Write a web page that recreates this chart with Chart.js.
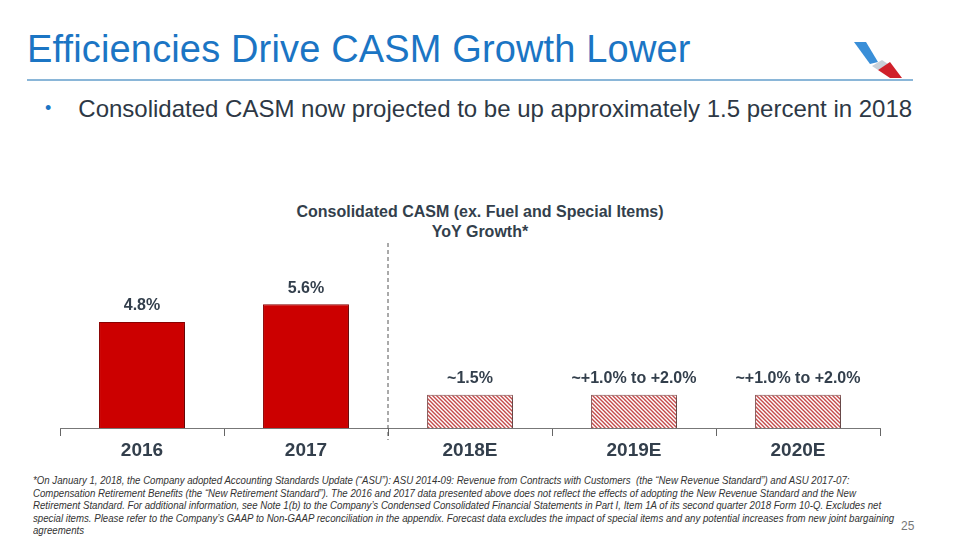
<!DOCTYPE html>
<html lang="en">
<head>
    <meta charset="UTF-8">
    <title>Efficiencies Drive CASM Growth Lower</title>
    <style>
        body {
            margin: 0;
            width: 960px;
            height: 540px;
            position: relative;
            overflow: hidden;
            background: #fff;
            font-family: "Liberation Sans", Arial, sans-serif;
        }
        #title {
            position: absolute;
            left: 27px;
            top: 28px;
            font-size: 38px;
            color: #1b75c4;
            letter-spacing: 0.15px;
        }
        #rule {
            position: absolute;
            left: 27px;
            top: 79px;
            width: 886px;
            height: 2px;
            background: #8ab6d8;
        }
        #bullet {
            position: absolute;
            left: 45px;
            top: 95px;
            font-size: 24px;
            color: #2d3845;
        }
        #bullet span { color: #1b75c4; margin-right: 27px; font-size: 18px; vertical-align: 3px; }
        #chart-title {
            position: absolute;
            left: 240px;
            width: 480px;
            top: 202px;
            text-align: center;
            font-size: 16px;
            font-weight: bold;
            color: #333f4c;
            line-height: 20px;
        }
        #chart-box {
            position: absolute;
            left: 55px;
            top: 230px;
            width: 830px;
            height: 234px;
        }
        #note {
            position: absolute;
            left: 33px;
            top: 475px;
            font-size: 10.4px;
            font-style: italic;
            color: #333;
            line-height: 12.6px;
            transform: scaleX(0.93);
            transform-origin: left top;
            white-space: nowrap;
        }
        #page {
            position: absolute;
            left: 901px;
            top: 519px;
            font-size: 12px;
            color: #777;
        }
        #logo { position: absolute; left: 852px; top: 40px; }
    </style>
</head>
<body>
    <div id="title">Efficiencies Drive CASM Growth Lower</div>
    <div id="rule"></div>
    <svg id="logo" width="62" height="40" viewBox="0 0 62 40">
        <polygon points="2,2 14,2 26,22 18,24" fill="#3a8fd8"/>
        <polygon points="20,26 30,20 36,24 26,30" fill="#c8d0d8"/>
        <polygon points="26,30 38,22 50,38 38,38" fill="#d0202a"/>
    </svg>
    <div id="bullet"><span>•</span>Consolidated CASM now projected to be up approximately 1.5 percent in 2018</div>
    <div id="chart-title">Consolidated CASM (ex. Fuel and Special Items)<br>YoY Growth*</div>
    <div id="chart-box"><canvas id="chart"></canvas></div>
    <div id="note">
        *On January 1, 2018, the Company adopted Accounting Standards Update (“ASU”): ASU 2014-09: Revenue from Contracts with Customers &nbsp;(the “New Revenue Standard”) and ASU 2017-07:<br>
        Compensation Retirement Benefits (the “New Retirement Standard”). The 2016 and 2017 data presented above does not reflect the effects of adopting the New Revenue Standard and the New<br>
        Retirement Standard. For additional information, see Note 1(b) to the Company’s Condensed Consolidated Financial Statements in Part I, Item 1A of its second quarter 2018 Form 10-Q. Excludes net<br>
        special items. Please refer to the Company’s GAAP to Non-GAAP reconciliation in the appendix. Forecast data excludes the impact of special items and any potential increases from new joint bargaining<br>
        agreements
    </div>
    <div id="page">25</div>

    <script src="https://cdn.jsdelivr.net/npm/chart.js"></script>
    <script>
        var years = ['2016', '2017', '2018E', '2019E', '2020E'];
        var growth = [4.8, 5.6, 1.5, 1.5, 1.5];
        var valueLabels = ['4.8%', '5.6%', '~1.5%', '~+1.0% to +2.0%', '~+1.0% to +2.0%'];
        var isForecast = [false, false, true, true, true];

        // diagonal red / white hatch for the estimates
        function makeHatch() {
            var c = document.createElement('canvas');
            c.width = 4;
            c.height = 4;
            var g = c.getContext('2d');
            g.fillStyle = '#ffffff';
            g.fillRect(0, 0, 4, 4);
            g.strokeStyle = '#c44a4a';
            g.lineWidth = 1.4;
            g.beginPath();
            g.moveTo(-1, -1); g.lineTo(5, 5);
            g.moveTo(-3, 1); g.lineTo(3, 7);
            g.moveTo(1, -3); g.lineTo(7, 3);
            g.stroke();
            return g.createPattern(c, 'repeat');
        }
        var hatch = makeHatch();

        var extras = {
            id: 'extras',
            beforeDatasetsDraw: function(chart) {
                var ctx = chart.ctx;
                ctx.save();
                ctx.shadowColor = 'rgba(0,0,0,0.35)';
                ctx.shadowOffsetX = 2;
                ctx.shadowOffsetY = 2;
                ctx.shadowBlur = 3;
            },
            afterDatasetsDraw: function(chart) {
                var ctx = chart.ctx;
                ctx.restore();
                var meta = chart.getDatasetMeta(0);
                ctx.save();
                ctx.font = 'bold 16px "Liberation Sans", Arial, sans-serif';
                ctx.fillStyle = '#333f4c';
                ctx.textAlign = 'center';
                ctx.textBaseline = 'bottom';
                meta.data.forEach(function(bar, i) {
                    ctx.fillText(valueLabels[i], bar.x, bar.y - 8);
                });
                // dashed divider between actuals and estimates
                var x = chart.scales.x;
                var xs = (x.getPixelForValue(1) + x.getPixelForValue(2)) / 2;
                ctx.strokeStyle = '#555';
                ctx.lineWidth = 1;
                ctx.setLineDash([4, 3]);
                ctx.beginPath();
                ctx.moveTo(xs, chart.chartArea.top - 37);
                ctx.lineTo(xs, chart.chartArea.bottom + 12);
                ctx.stroke();
                ctx.restore();
            }
        };

        new Chart(document.getElementById('chart'), {
            type: 'bar',
            data: {
                labels: years,
                datasets: [{
                    data: growth,
                    backgroundColor: isForecast.map(function(f) { return f ? hatch : '#cc0000'; }),
                    borderColor: isForecast.map(function(f) { return f ? '#8a5a5a' : '#8b0000'; }),
                    borderWidth: 1,
                    barPercentage: 1,
                    categoryPercentage: 0.524
                }]
            },
            options: {
                responsive: true,
                maintainAspectRatio: false,
                animation: false,
                layout: { padding: { top: 50, left: 5, right: 5 } },
                plugins: {
                    legend: { display: false },
                    tooltip: { enabled: false }
                },
                scales: {
                    x: {
                        grid: {
                            display: true,
                            drawOnChartArea: false,
                            drawTicks: true,
                            tickLength: 8,
                            color: '#666'
                        },
                        border: { display: true, color: '#777', width: 1 },
                        ticks: {
                            color: '#333f4c',
                            font: { family: '"Liberation Sans", Arial, sans-serif', size: 19, weight: 'bold' },
                            padding: 3
                        },
                        afterFit: function(scale) { scale.height = 36; }
                    },
                    y: {
                        display: false,
                        min: 0,
                        max: 6.7
                    }
                }
            },
            plugins: [extras]
        });
    </script>
</body>
</html>
